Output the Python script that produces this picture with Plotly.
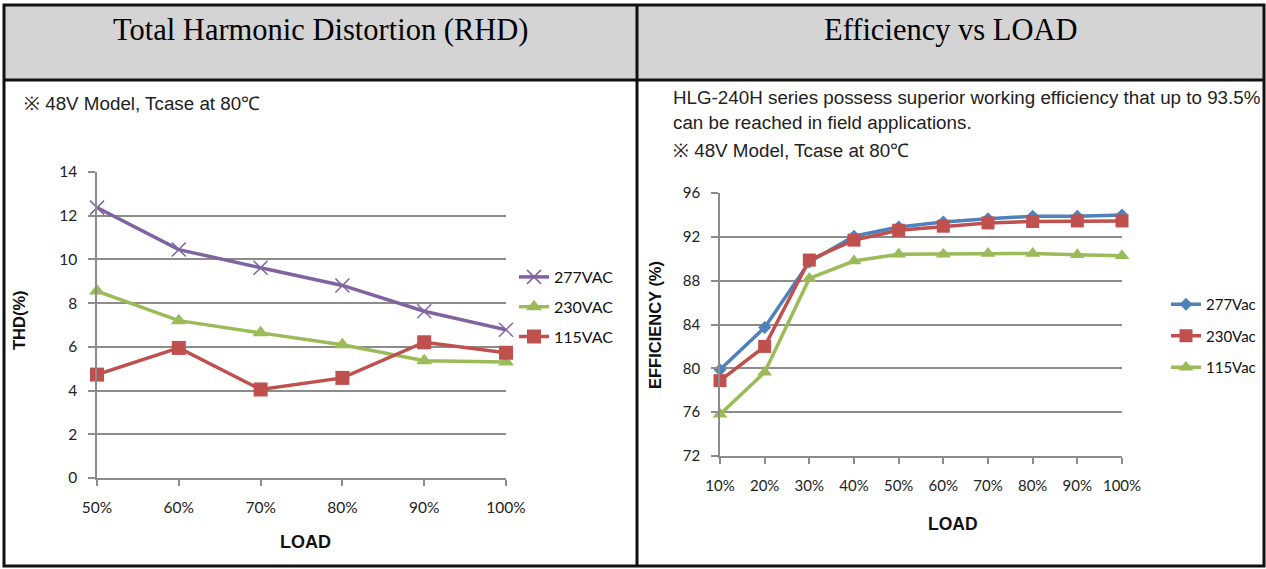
import plotly.graph_objects as go

W, H = 1266, 569

# ---- data: THD chart ----
thd_load = ["50%", "60%", "70%", "80%", "90%", "100%"]
thd_277 = [12.37, 10.45, 9.62, 8.81, 7.63, 6.78]
thd_230 = [8.55, 7.2, 6.64, 6.1, 5.37, 5.31]
thd_115 = [4.73, 5.95, 4.05, 4.58, 6.21, 5.73]

# ---- data: Efficiency chart ----
eff_load = ["10%", "20%", "30%", "40%", "50%", "60%", "70%", "80%", "90%", "100%"]
eff_277 = [79.88, 83.73, 89.7, 92.06, 92.9, 93.36, 93.64, 93.88, 93.88, 94.0]
eff_230 = [78.88, 82.0, 89.88, 91.7, 92.6, 92.97, 93.27, 93.4, 93.45, 93.45]
eff_115 = [75.8, 79.64, 88.2, 89.79, 90.42, 90.42, 90.48, 90.48, 90.36, 90.27]

PURPLE = "#8064A2"
GREEN = "#9BBB59"
RED = "#C0504D"
BLUE = "#4F81BD"
GRID = "#8c8c8c"


def px(x):
    return x / W


def py(y):
    return 1 - y / H


fig = go.Figure()

# left chart traces
fig.add_trace(go.Scatter(x=thd_load, y=thd_277, name="277VAC", mode="lines+markers",
                         line=dict(color=PURPLE, width=3.5),
                         marker=dict(symbol="x-thin", size=14, line=dict(color=PURPLE, width=1.5)),
                         xaxis="x", yaxis="y", legend="legend", legendgroup="a", cliponaxis=False))
fig.add_trace(go.Scatter(x=thd_load, y=thd_230, name="230VAC", mode="lines+markers",
                         line=dict(color=GREEN, width=3.5),
                         marker=dict(symbol="triangle-up", size=14, color=GREEN),
                         xaxis="x", yaxis="y", legend="legend", legendgroup="b", cliponaxis=False))
fig.add_trace(go.Scatter(x=thd_load, y=thd_115, name="115VAC", mode="lines+markers",
                         line=dict(color=RED, width=3.5),
                         marker=dict(symbol="square", size=14, color=RED),
                         xaxis="x", yaxis="y", legend="legend", legendgroup="c", cliponaxis=False))

# right chart traces
fig.add_trace(go.Scatter(x=eff_load, y=eff_277, name="277Vac", mode="lines+markers",
                         line=dict(color=BLUE, width=3.5),
                         marker=dict(symbol="diamond", size=10, color=BLUE),
                         xaxis="x2", yaxis="y2", legend="legend2", legendgroup="d", cliponaxis=False))
fig.add_trace(go.Scatter(x=eff_load, y=eff_230, name="230Vac", mode="lines+markers",
                         line=dict(color=RED, width=3.5),
                         marker=dict(symbol="square", size=13, color=RED),
                         xaxis="x2", yaxis="y2", legend="legend2", legendgroup="e", cliponaxis=False))
fig.add_trace(go.Scatter(x=eff_load, y=eff_115, name="115Vac", mode="lines+markers",
                         line=dict(color=GREEN, width=3.5),
                         marker=dict(symbol="triangle-up", size=13, color=GREEN),
                         xaxis="x2", yaxis="y2", legend="legend2", legendgroup="f", cliponaxis=False))

tickfont_l = dict(family="Lato, Open Sans, sans-serif", size=15.5, color="#222")
tickfont_r = dict(family="Lato, Open Sans, sans-serif", size=15, color="#222")

common_x = dict(type="category", showline=True, linecolor=GRID, linewidth=1.5,
                ticks="outside", ticklen=6, tickcolor=GRID, tickwidth=1.5,
                showgrid=False, ticklabelstandoff=9, zeroline=False)
common_y = dict(showline=True, linecolor=GRID, linewidth=1.5,
                ticks="outside", ticklen=7, tickcolor=GRID, tickwidth=1.5,
                showgrid=True, gridcolor=GRID, gridwidth=1.5, zeroline=False,
                ticklabelstandoff=8)

fig.update_layout(
    width=W, height=H,
    margin=dict(l=0, r=0, t=0, b=0, pad=0, autoexpand=False),
    paper_bgcolor="white", plot_bgcolor="white",
    xaxis=dict(domain=[px(97), px(506)], range=[0, 5], anchor="y", tickfont=tickfont_l, **common_x),
    yaxis=dict(domain=[py(478), py(172)], range=[0, 14], dtick=2, anchor="x", tickfont=tickfont_l, **common_y),
    xaxis2=dict(domain=[px(720), px(1122)], range=[0, 9], anchor="y2", tickfont=tickfont_r, **common_x),
    yaxis2=dict(domain=[py(456), py(193)], range=[72, 96], dtick=4, anchor="x2", tickfont=tickfont_r, **common_y),
    legend=dict(x=px(514), y=py(260), xanchor="left", yanchor="top",
                font=dict(family="Lato, sans-serif", size=16, color="#111"),
                tracegroupgap=6, bgcolor="rgba(0,0,0,0)", itemwidth=30),
    legend2=dict(x=px(1166), y=py(288), xanchor="left", yanchor="top",
                 font=dict(family="Lato, sans-serif", size=15, color="#111"),
                 tracegroupgap=9, bgcolor="rgba(0,0,0,0)", itemwidth=30),
    showlegend=True,
)

# table shapes
shapes = [
    dict(type="rect", xref="paper", yref="paper", x0=px(4), x1=px(1264), y0=py(80), y1=py(5),
         fillcolor="#d4d4d4", line=dict(width=0), layer="below"),
    dict(type="rect", xref="paper", yref="paper", x0=px(4), x1=px(1264), y0=py(566), y1=py(5),
         line=dict(color="#111", width=3)),
    dict(type="line", xref="paper", yref="paper", x0=px(4), x1=px(1264), y0=py(80), y1=py(80),
         line=dict(color="#111", width=3)),
    dict(type="line", xref="paper", yref="paper", x0=px(637), x1=px(637), y0=py(566), y1=py(5),
         line=dict(color="#111", width=3)),
]
fig.update_layout(shapes=shapes)

serif = dict(family="Liberation Serif, serif", size=30.5, color="#000")
sub = dict(family="Liberation Sans, sans-serif", size=18.8, color="#222")
SANS = "Liberation Sans, Arial, sans-serif"

ann = [
    dict(text="Total Harmonic Distortion (RHD)", x=px(320), y=py(30), font=serif),
    dict(text="Efficiency vs LOAD", x=px(951), y=py(30), font=serif),
    dict(text="※ 48V Model, Tcase at 80℃", x=px(22), y=py(103), xanchor="left", font=sub),
    dict(text="HLG-240H series possess superior working efficiency that up to 93.5%", x=px(671), y=py(97),
         xanchor="left", font=sub),
    dict(text="can be reached in field applications.", x=px(671), y=py(122), xanchor="left", font=sub),
    dict(text="※ 48V Model, Tcase at 80℃", x=px(671), y=py(150), xanchor="left", font=sub),
    dict(text="<b>LOAD</b>", x=px(305), y=py(542), font=dict(family=SANS, size=18, color="#111")),
    dict(text="<b>LOAD</b>", x=px(953), y=py(524), font=dict(family=SANS, size=17.5, color="#111")),
    dict(text="<b>THD(%)</b>", x=px(19), y=py(320), textangle=-90,
         font=dict(family=SANS, size=16.5, color="#111")),
    dict(text="<b>EFFICIENCY (%)</b>", x=px(655), y=py(325), textangle=-90,
         font=dict(family=SANS, size=16.5, color="#111")),
]
for a in ann:
    a.setdefault("xanchor", "center")
    a.update(xref="paper", yref="paper", yanchor="middle", showarrow=False)
fig.update_layout(annotations=ann)

fig.write_html("out.html", config={"displayModeBar": False},
               post_script="document.body.style.margin='0';document.body.style.overflow='hidden';")
